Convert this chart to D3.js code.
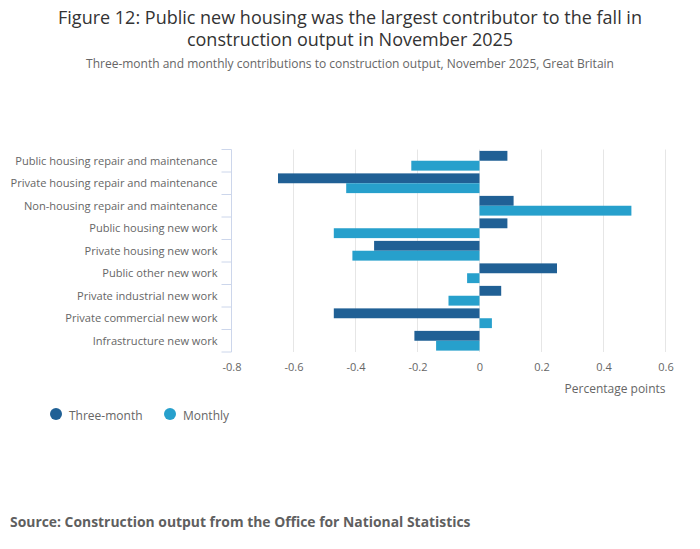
<html>
<head>
<meta charset="utf-8">
<title>Figure 12</title>
<script src="https://d3js.org/d3.v7.min.js"></script>
<style>
  body { margin: 0; background: #fff; }
  svg { font-family: "Open Sans", sans-serif; }
</style>
</head>
<body>
<div id="container"></div>
<script>
// categories top to bottom
const categories = [
  'Public housing repair and maintenance',
  'Private housing repair and maintenance',
  'Non-housing repair and maintenance',
  'Public housing new work',
  'Private housing new work',
  'Public other new work',
  'Private industrial new work',
  'Private commercial new work',
  'Infrastructure new work'
]
const threeMonth = [0.09, -0.65, 0.11, 0.09, -0.34, 0.25, 0.07, -0.47, -0.21]
const monthly = [-0.22, -0.43, 0.49, -0.47, -0.41, -0.04, -0.10, 0.04, -0.14]
const seriesNames = ['Three-month', 'Monthly']
const xTicks = [-0.8, -0.6, -0.4, -0.2, 0, 0.2, 0.4, 0.6]

const colors = ['#206095', '#27a0cc']
const width = 700, height = 549
const plot = { left: 231.5, right: 665.5, top: 149.5, bottom: 352 }

const svg = d3.select('#container')
  .append('svg')
  .attr('width', width)
  .attr('height', height)

// title + subtitle
svg.append('text')
  .attr('x', width / 2).attr('y', 24)
  .attr('text-anchor', 'middle')
  .attr('fill', '#333').style('font-size', '18px')
  .text('Figure 12: Public new housing was the largest contributor to the fall in')
svg.append('text')
  .attr('x', width / 2).attr('y', 46)
  .attr('text-anchor', 'middle')
  .attr('fill', '#333').style('font-size', '18px')
  .text('construction output in November 2025')
svg.append('text')
  .attr('x', width / 2).attr('y', 68)
  .attr('text-anchor', 'middle')
  .attr('fill', '#666').style('font-size', '12px')
  .text('Three-month and monthly contributions to construction output, November 2025, Great Britain')

const x = d3.scaleLinear().domain([-0.8, 0.6]).range([plot.left, plot.right])
const y = d3.scaleBand().domain(categories).range([plot.top, plot.bottom])
const inner = d3.scaleBand().domain(seriesNames)
  .range([0, y.bandwidth()]).paddingOuter(0.14)

// gridlines
svg.append('g')
  .selectAll('line')
  .data(xTicks.slice(1))
  .join('line')
  .attr('x1', d => x(d)).attr('x2', d => x(d))
  .attr('y1', plot.top).attr('y2', plot.bottom)
  .attr('stroke', '#e6e6e6')

// bars
const rows = categories.map((c, i) => ({ cat: c, vals: [threeMonth[i], monthly[i]] }))
const groups = svg.append('g')
  .selectAll('g')
  .data(rows)
  .join('g')
  .attr('transform', d => `translate(0,${y(d.cat)})`)

groups.selectAll('rect')
  .data(d => d.vals.map((v, j) => ({ v, s: seriesNames[j], j })))
  .join('rect')
  .attr('x', d => x(Math.min(0, d.v)))
  .attr('width', d => Math.abs(x(d.v) - x(0)))
  .attr('y', d => inner(d.s))
  .attr('height', inner.bandwidth())
  .attr('fill', d => colors[d.j])

// y axis with ticks between categories
const yAxis = svg.append('g')
yAxis.append('line')
  .attr('x1', plot.left).attr('x2', plot.left)
  .attr('y1', plot.top).attr('y2', plot.bottom)
  .attr('stroke', '#ccd6eb')
const boundaries = categories.map(c => y(c)).concat([plot.bottom])
yAxis.selectAll('.tk')
  .data(boundaries)
  .join('line')
  .attr('class', 'tk')
  .attr('x1', plot.left - 10).attr('x2', plot.left)
  .attr('y1', d => d).attr('y2', d => d)
  .attr('stroke', '#ccd6eb')
yAxis.selectAll('text')
  .data(categories)
  .join('text')
  .attr('x', plot.left - 14)
  .attr('y', d => y(d) + y.bandwidth() / 2 + 4)
  .attr('text-anchor', 'end')
  .attr('fill', '#666').style('font-size', '11.1px')
  .text(d => d)

// x axis labels (plain hyphen minus like the original)
const xAxis = d3.axisBottom(x).tickValues(xTicks).tickSize(0).tickFormat(d => String(d))
const gx = svg.append('g')
  .attr('transform', `translate(0,${plot.bottom + 8})`)
  .call(xAxis)
gx.select('.domain').remove()
gx.selectAll('text')
  .attr('fill', '#666')
  .style('font-size', '11px')
  .style('font-family', '"Open Sans", sans-serif')

svg.append('text')
  .attr('x', plot.right).attr('y', 393)
  .attr('text-anchor', 'end')
  .attr('fill', '#666').style('font-size', '12px')
  .text('Percentage points')

// legend
const legendX = [56, 170]
const legend = svg.append('g')
  .selectAll('g')
  .data(seriesNames)
  .join('g')
  .attr('transform', (d, i) => `translate(${legendX[i]},414)`)
legend.append('circle').attr('r', 6).attr('fill', (d, i) => colors[i])
legend.append('text')
  .attr('x', 13).attr('y', 6)
  .attr('fill', '#666').style('font-size', '12px')
  .text(d => d)

// source
svg.append('text')
  .attr('x', 10).attr('y', 527)
  .attr('fill', '#5f5f5f')
  .style('font-size', '13.9px').style('font-weight', 'bold')
  .text('Source: Construction output from the Office for National Statistics')
</script>
</body>
</html>
